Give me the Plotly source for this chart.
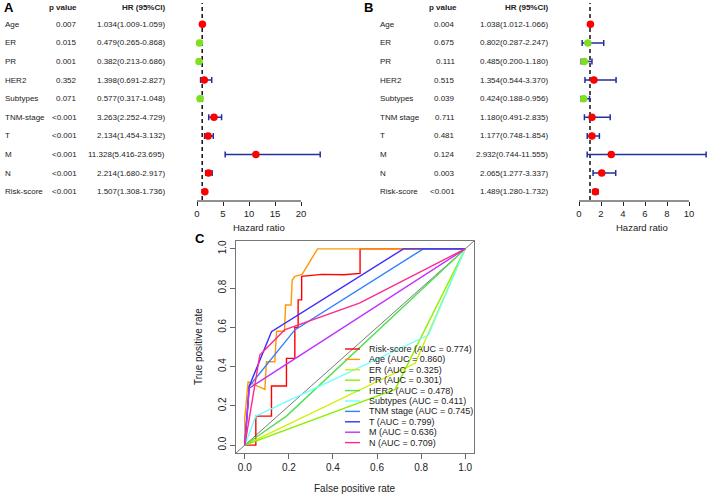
import plotly.graph_objects as go

W, H = 709, 496
def px(x): return x / W
def py(y): return 1 - y / H

# ---------------- data: panel A (univariate Cox) ----------------
vars_A = ["Age", "ER", "PR", "HER2", "Subtypes", "TNM-stage", "T", "M", "N", "Risk-score"]
p_A = ["0.007", "0.015", "0.001", "0.352", "0.071", "<0.001", "<0.001", "<0.001", "<0.001", "<0.001"]
hr_A = [1.034, 0.479, 0.382, 1.398, 0.577, 3.263, 2.134, 11.328, 2.214, 1.507]
lo_A = [1.009, 0.265, 0.213, 0.691, 0.317, 2.252, 1.454, 5.416, 1.680, 1.308]
hi_A = [1.059, 0.868, 0.686, 2.827, 1.048, 4.729, 3.132, 23.695, 2.917, 1.736]
ticks_A = [0, 5, 10, 15, 20]

# ---------------- data: panel B (multivariate Cox) ----------------
vars_B = ["Age", "ER", "PR", "HER2", "Subtypes", "TNM stage", "T", "M", "N", "Risk-score"]
p_B = ["0.004", "0.675", "0.111", "0.515", "0.039", "0.711", "0.481", "0.124", "0.003", "<0.001"]
hr_B = [1.038, 0.802, 0.485, 1.354, 0.424, 1.180, 1.177, 2.932, 2.065, 1.489]
lo_B = [1.012, 0.287, 0.200, 0.544, 0.188, 0.491, 0.748, 0.744, 1.277, 1.280]
hi_B = [1.066, 2.247, 1.180, 3.370, 0.956, 2.835, 1.854, 11.555, 3.337, 1.732]
ticks_B = [0, 2, 4, 6, 8, 10]

# ---------------- data: panel C (ROC curves) ----------------
roc_names = ["Risk-score", "Age", "ER", "PR", "HER2", "Subtypes", "TNM stage", "T", "M", "N"]
roc_auc = [0.774, 0.860, 0.325, 0.301, 0.478, 0.411, 0.745, 0.799, 0.636, 0.709]
roc_colors = ["#FF0000", "#FF9900", "#D0F000", "#8CF000", "#50E050",
              "#70FFFF", "#2F80FF", "#3A2CFF", "#C030FF", "#FF2A8A"]

fpr_risk = [0, 0.05, 0.05, 0.121, 0.121, 0.189, 0.189, 0.227, 0.227, 0.242, 0.242, 0.258, 0.258, 0.35, 0.45, 0.523, 0.523, 1]
tpr_risk = [0, 0, 0.148, 0.148, 0.301, 0.301, 0.442, 0.442, 0.60, 0.60, 0.74, 0.74, 0.86, 0.87, 0.868, 0.875, 1.0, 1.0]
fpr_age = [0, 0, 0.015, 0.091, 0.098, 0.136, 0.144, 0.18, 0.185, 0.21, 0.215, 0.227, 0.26, 0.33, 1]
tpr_age = [0, 0.14, 0.323, 0.284, 0.425, 0.425, 0.58, 0.58, 0.714, 0.714, 0.84, 0.86, 0.87, 1.0, 1.0]
fpr_er = [0, 0.773, 1]
tpr_er = [0, 0.417, 1]
fpr_pr = [0, 0.682, 1]
tpr_pr = [0, 0.284, 1]
fpr_her2 = [0, 0.189, 1]
tpr_her2 = [0, 0.148, 1]
fpr_sub = [0, 0.05, 0.833, 1]
tpr_sub = [0, 0.148, 0.561, 1]
fpr_tnm = [0, 0.02, 0.227, 0.81, 1]
tpr_tnm = [0, 0.30, 0.587, 1.0, 1.0]
fpr_t = [0, 0.02, 0.121, 0.72, 1]
tpr_t = [0, 0.30, 0.578, 1.0, 1.0]
fpr_m = [0, 0.02, 1]
tpr_m = [0, 0.29, 1]
fpr_n = [0, 0.068, 0.18, 0.52, 1]
tpr_n = [0, 0.459, 0.587, 0.723, 1]

roc_fpr = [fpr_risk, fpr_age, fpr_er, fpr_pr, fpr_her2, fpr_sub, fpr_tnm, fpr_t, fpr_m, fpr_n]
roc_tpr = [tpr_risk, tpr_age, tpr_er, tpr_pr, tpr_her2, tpr_sub, tpr_tnm, tpr_t, tpr_m, tpr_n]

FONT = "Liberation Sans, Arial, sans-serif"
RED = "#FF0000"
GREEN = "#80E020"
CI_BLUE = "#24309A"

fig = go.Figure()
rows = list(range(len(vars_A)))

def forest(hr, lo, hi, xa, ya):
    fig.add_trace(go.Scatter(
        x=hr, y=rows, mode="markers", xaxis=xa, yaxis=ya,
        marker=dict(size=7.5, color=[RED if h > 1 else GREEN for h in hr]),
        error_x=dict(type="data", symmetric=False,
                     array=[h - m for h, m in zip(hi, hr)],
                     arrayminus=[m - l for m, l in zip(hr, lo)],
                     color=CI_BLUE, thickness=1.5, width=3),
        hoverinfo="skip", showlegend=False))

forest(hr_A, lo_A, hi_A, "x", "y")
forest(hr_B, lo_B, hi_B, "x2", "y2")

for name, f, t, c in zip(roc_names, roc_fpr, roc_tpr, roc_colors):
    fig.add_trace(go.Scatter(x=f, y=t, mode="lines", xaxis="x3", yaxis="y3",
                             line=dict(color=c, width=1.4), name=name,
                             hoverinfo="skip", showlegend=False))

row_y = [24.3 + 18.6 * i for i in rows]
ydom = [py(201), py(5)]
yrange = [(201 - 24.3) / 18.6, (5 - 24.3) / 18.6]

tickfont = dict(family=FONT, size=9.5, color="#222")
fig.update_layout(
    width=W, height=H, margin=dict(l=0, r=0, t=0, b=0),
    paper_bgcolor="white", plot_bgcolor="white", showlegend=False,
    xaxis=dict(domain=[px(190), px(325)], range=[(190 - 197) / 5.2, (325 - 197) / 5.2],
               anchor="y", tickvals=ticks_A, ticks="outside", ticklen=4, tickcolor="#222",
               showline=False, showgrid=False, zeroline=False, tickfont=tickfont),
    yaxis=dict(domain=ydom, range=yrange, visible=False, anchor="x"),
    xaxis2=dict(domain=[px(570), px(709)], range=[(570 - 579) / 11, (709 - 579) / 11],
                anchor="y2", tickvals=ticks_B, ticks="outside", ticklen=4, tickcolor="#222",
                showline=False, showgrid=False, zeroline=False, tickfont=tickfont),
    yaxis2=dict(domain=ydom, range=yrange, visible=False, anchor="x2"),
    xaxis3=dict(domain=[px(236), px(474)], range=[-0.04, 1.04], anchor="y3",
                tickvals=[0, 0.2, 0.4, 0.6, 0.8, 1.0],
                ticktext=["0.0", "0.2", "0.4", "0.6", "0.8", "1.0"],
                ticks="outside", ticklen=5, tickcolor="#666",
                showline=True, mirror=True, linecolor="#777", linewidth=1,
                showgrid=False, zeroline=False, tickfont=dict(family=FONT, size=10, color="#222")),
    yaxis3=dict(domain=[py(453), py(241)], range=[-0.04, 1.04], anchor="x3",
                tickvals=[0, 0.2, 0.4, 0.6, 0.8, 1.0],
                ticktext=["0.0", "0.2", "0.4", "0.6", "0.8", "1.0"],
                ticks="outside", ticklen=5, tickcolor="#666", tickangle=-90,
                showline=True, mirror=True, linecolor="#777", linewidth=1,
                showgrid=False, zeroline=False, tickfont=dict(family=FONT, size=10, color="#222")),
)

shapes = []
# forest axis lines and reference dashed lines
shapes.append(dict(type="line", xref="x", yref="paper", x0=ticks_A[0], x1=ticks_A[-1],
                   y0=py(201), y1=py(201), line=dict(color="#222", width=1)))
shapes.append(dict(type="line", xref="x2", yref="paper", x0=ticks_B[0], x1=ticks_B[-1],
                   y0=py(201), y1=py(201), line=dict(color="#222", width=1)))
for xr in ["x", "x2"]:
    shapes.append(dict(type="line", xref=xr, yref="paper", x0=1, x1=1,
                       y0=py(200), y1=py(3), line=dict(color="#111", width=1.5, dash="4px,3px"),
                       layer="below"))
# ROC diagonal
shapes.append(dict(type="line", xref="x3", yref="y3", x0=-0.04, y0=-0.04, x1=1.04, y1=1.04,
                   line=dict(color="#555", width=0.8), layer="below"))

ann = []
def txt(x, y, s, size=8, anchor="left", bold=False, color="#222", angle=0):
    ann.append(dict(x=px(x), y=py(y), xref="paper", yref="paper", showarrow=False,
                    text=f"<b>{s}</b>" if bold else s, xanchor=anchor, yanchor="middle",
                    textangle=angle, font=dict(family=FONT, size=size, color=color)))

def table(x_lab, x_p_center, x_p_right, x_hr_right, vars_, p_, hr, lo, hi):
    txt(x_p_center, 7, "p value", anchor="center", bold=True)
    txt(x_hr_right, 7, "HR (95%CI)", anchor="right", bold=True)
    for i, v in enumerate(vars_):
        y = row_y[i]
        txt(x_lab, y, v)
        txt(x_p_right, y, p_[i].replace("<", "&lt;"), anchor="right")
        txt(x_hr_right, y, f"{hr[i]:.3f}({lo[i]:.3f}-{hi[i]:.3f})", anchor="right")

table(3, 63, 79, 167, vars_A, p_A, hr_A, lo_A, hi_A)
table(378, 443, 457, 550, vars_B, p_B, hr_B, lo_B, hi_B)

txt(2, 8, "A", size=13, bold=True, color="#000")
txt(362, 8, "B", size=13, bold=True, color="#000")
txt(193, 238, "C", size=13, bold=True, color="#000")

txt(259, 227, "Hazard ratio", size=9.5, anchor="center")
txt(642, 227, "Hazard ratio", size=9.5, anchor="center")
txt(355, 488, "False positive rate", size=10, anchor="center")
ann.append(dict(x=px(198), y=py(347), xref="paper", yref="paper", showarrow=False,
                text="True positive rate", textangle=-90, xanchor="center", yanchor="middle",
                font=dict(family=FONT, size=10, color="#222")))

# ROC legend
for i, (name, a, c) in enumerate(zip(roc_names, roc_auc, roc_colors)):
    y = 349 + 10.4 * i
    shapes.append(dict(type="line", xref="paper", yref="paper", x0=px(345), x1=px(360),
                       y0=py(y), y1=py(y), line=dict(color=c, width=1.4)))
    txt(367, y, f"{name} (AUC = {a:.3f})", size=9)

fig.update_layout(shapes=shapes, annotations=ann)
fig.write_html("out.html", config={"displayModeBar": False, "staticPlot": True},
               post_script="document.body.style.margin='0';document.body.style.overflow='hidden';")
